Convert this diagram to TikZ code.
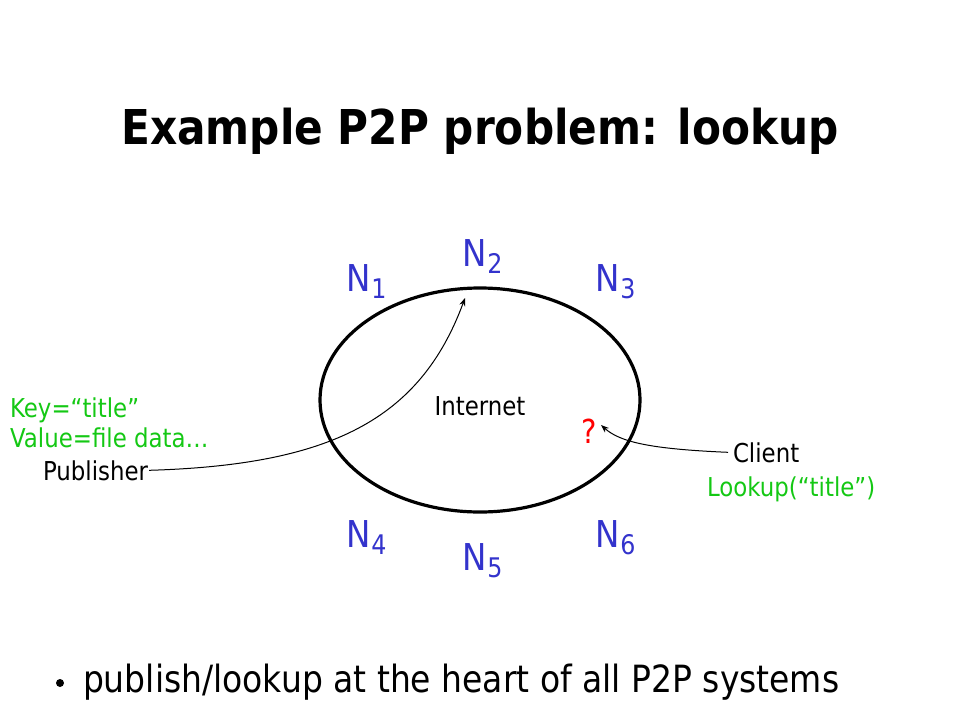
\documentclass[tikz,border=0pt]{standalone}
\usepackage{fontspec}
\setmainfont{DejaVu Sans}[FakeStretch=0.88]
\usetikzlibrary{arrows.meta}
\definecolor{nblue}{RGB}{51,51,204}
\definecolor{kgreen}{RGB}{20,200,20}
\newcommand\nlab[1]{N\kern1pt\raisebox{-7pt}{\fontsize{27}{27}\selectfont #1}}
\tikzset{
  nnode/.style={anchor=base west, text=nblue, font=\fontsize{37}{37}\selectfont},
  small/.style={font=\fontsize{26}{26}\selectfont},
  arr/.style={-{Stealth[length=8pt,width=6pt]}, line width=1pt, black}
}
\begin{document}
\begin{tikzpicture}[x=1pt,y=-1pt, inner sep=0pt, outer sep=0pt]
\useasboundingbox (0,0) rectangle (960,720);
\node[anchor=base, font=\fontsize{48}{48}\selectfont\bfseries] (title) at (480,144) {Example P2P problem: lookup};
\draw[line width=3.2pt] (480,400) ellipse [x radius=160, y radius=112];
\node[nnode] (n1) at (346,291) {\nlab{1}};
\node[nnode] (n2) at (462,266) {\nlab{2}};
\node[nnode] (n3) at (595,291) {\nlab{3}};
\node[nnode] (n4) at (346,547) {\nlab{4}};
\node[nnode] (n5) at (462,570) {\nlab{5}};
\node[nnode] (n6) at (595,547) {\nlab{6}};
\node[small, anchor=base] (inet) at (480,415) {Internet};
\node[anchor=base, text=red, font=\fontsize{33}{33}\selectfont] (q) at (589,443) {?};
\node[small, anchor=base west] (client) at (733,462) {Client};
\node[small, anchor=base west, text=kgreen] (lookup) at (707,496) {Lookup(“title”)};
\node[small, anchor=base west, text=kgreen] (key) at (10,417) {Key=“title”};
\node[small, anchor=base west, text=kgreen] (value) at (10,447) {Value=file data…};
\node[small, anchor=base west] (pub) at (43,480) {Publisher};
\coordinate (pubtip) at (465,298);
\coordinate (qtip) at (601,425);
\draw[arr] ([xshift=1pt]pub.east) .. controls (330,465) and (420,420) .. (pubtip);
\draw[arr] ([xshift=-5pt]client.west) .. controls (650,449) and (620,442) .. (qtip);
\node[circle, fill=black, minimum size=8pt] (dot) at (60,683) {};
\node[anchor=base west, font=\fontsize{37.5}{37.5}\selectfont] (bullet) at (83,692) {publish/lookup at the heart of all P2P systems};
\end{tikzpicture}
\end{document}
